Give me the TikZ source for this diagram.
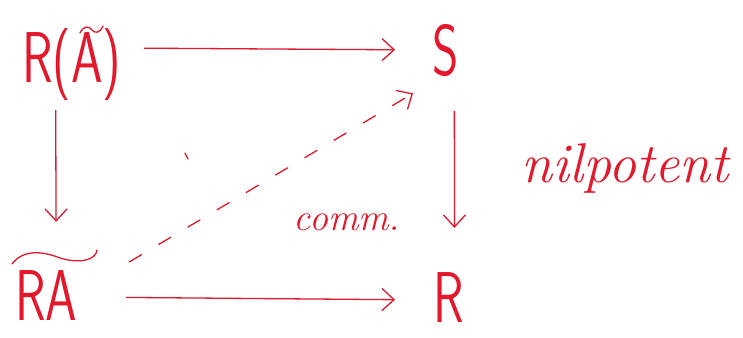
\documentclass[tikz,border=0pt]{standalone}
\usetikzlibrary{arrows.meta}
\definecolor{ink}{RGB}{228,24,44}
\newcommand{\hwbig}[1]{\scalebox{0.7}[1]{\fontsize{72}{72}\selectfont\sffamily #1}}
\begin{document}
\begin{tikzpicture}[x=1pt,y=-1pt,
  obj/.style={text=ink,inner sep=0pt,anchor=base west},
  arr/.style={draw=ink,line width=1.3pt,line cap=round,-{Straight Barb[length=12pt,width=22pt,line width=1.3pt]}},
  ink line/.style={draw=ink,line width=1.3pt,line cap=round},
  lbl/.style={text=ink,inner sep=0pt,font=\itshape}]
\fill[white] (0,0) rectangle (743,337);
\node[obj] (A1) at (22,82) {\hwbig{R(A)}};
\node[obj] (S) at (432,75) {\hwbig{S}};
\node[obj] (RA) at (15,320) {\hwbig{RA}};
\node[obj] (R) at (433,322) {\hwbig{R}};
% tildes
\draw[ink line] (80,33) .. controls (84,25) and (89,26) .. (92,30) .. controls (95,34) and (100,33) .. (103,26);
\draw[ink line] (12,264) .. controls (24,248) and (45,252) .. (60,258) .. controls (80,264) and (96,260) .. (97,250);
% arrows
\draw[arr,shorten <=23pt,shorten >=37pt] ([yshift=16pt]A1.east) -- (S.west);
\draw[arr,shorten <=10pt,shorten >=48pt] ([xshift=-16pt]A1.south) -- ([xshift=10pt]RA.north);
\draw[arr,shorten <=35pt,shorten >=44pt] ([xshift=9pt]S.south) -- ([xshift=6pt]R.north);
\draw[arr,shorten <=49pt,shorten >=38pt] ([yshift=-2pt]RA.east) -- ([yshift=-3pt]R.west);
\draw[arr,dashed,dash pattern=on 14pt off 20pt] ([xshift=52pt,yshift=8pt]RA.north east) -- ([xshift=-19pt,yshift=-17pt]S.south west);
\draw[ink line] (185,153) -- (188,159);
\node[lbl,font=\itshape\fontsize{38}{38}\selectfont] (comm) at (347,222) {comm.};
\node[lbl,font=\itshape\fontsize{56}{56}\selectfont] (nil) at (625,168) {nilpotent};
\end{tikzpicture}
\end{document}
